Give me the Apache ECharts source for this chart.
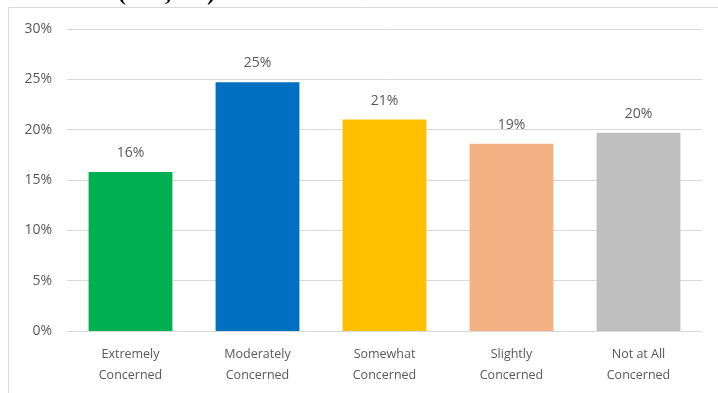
<!DOCTYPE html>
<html>
<head>
<meta charset="utf-8">
<style>
  html, body { margin: 0; padding: 0; background: #fff; }
  #chart { width: 718px; height: 393px; }
</style>
<script src="https://cdn.jsdelivr.net/npm/echarts@6/dist/echarts.min.js"></script>
</head>
<body>
<div id="chart"></div>
<script>
// Level of concern about COVID-19, share of respondents
const categories = [
  'Extremely\nConcerned',
  'Moderately\nConcerned',
  'Somewhat\nConcerned',
  'Slightly\nConcerned',
  'Not at All\nConcerned'
];
const shares = [15.8, 24.7, 21.0, 18.6, 19.7];
const barColors = ['#00B050', '#0070C0', '#FFC000', '#F4B183', '#BFBFBF'];
const yTicks = { min: 0, max: 30, step: 5 };
const heading = 'COVID-19 (n=2,014)';

const font = '"Open Sans", "Liberation Sans", sans-serif';
const textGrey = '#595959';
const lineGrey = '#D9D9D9';

const chart = echarts.init(document.getElementById('chart'));
chart.setOption({
  animation: false,
  backgroundColor: '#fff',
  graphic: [
    {
      type: 'rect',
      shape: { x: 8.5, y: 7.5, width: 720, height: 400 },
      style: { fill: 'none', stroke: lineGrey, lineWidth: 1 },
      silent: true
    },
    {
      type: 'text',
      left: 0,
      top: -18,
      style: {
        text: heading,
        fill: '#000',
        font: 'bold 24px "Liberation Serif", "DejaVu Serif", serif'
      },
      silent: true
    }
  ],
  grid: { left: 67, right: 16, top: 29, bottom: 62 },
  xAxis: {
    type: 'category',
    data: categories,
    axisLine: { lineStyle: { color: lineGrey } },
    axisTick: { show: false },
    axisLabel: {
      color: textGrey,
      fontFamily: font,
      fontSize: 12.5,
      lineHeight: 21,
      margin: 13,
      interval: 0
    }
  },
  yAxis: {
    type: 'value',
    min: yTicks.min,
    max: yTicks.max,
    interval: yTicks.step,
    axisLine: { show: false },
    axisTick: { show: false },
    splitLine: { lineStyle: { color: lineGrey } },
    axisLabel: {
      formatter: '{value}%',
      color: textGrey,
      fontFamily: font,
      fontSize: 14,
      margin: 15
    }
  },
  series: [{
    type: 'bar',
    data: shares.map((v, i) => ({ value: v, itemStyle: { color: barColors[i] } })),
    barWidth: '66%',
    label: {
      show: true,
      position: 'top',
      distance: 12,
      formatter: p => Math.round(p.value) + '%',
      color: textGrey,
      fontFamily: font,
      fontSize: 14
    }
  }]
});
</script>
</body>
</html>
